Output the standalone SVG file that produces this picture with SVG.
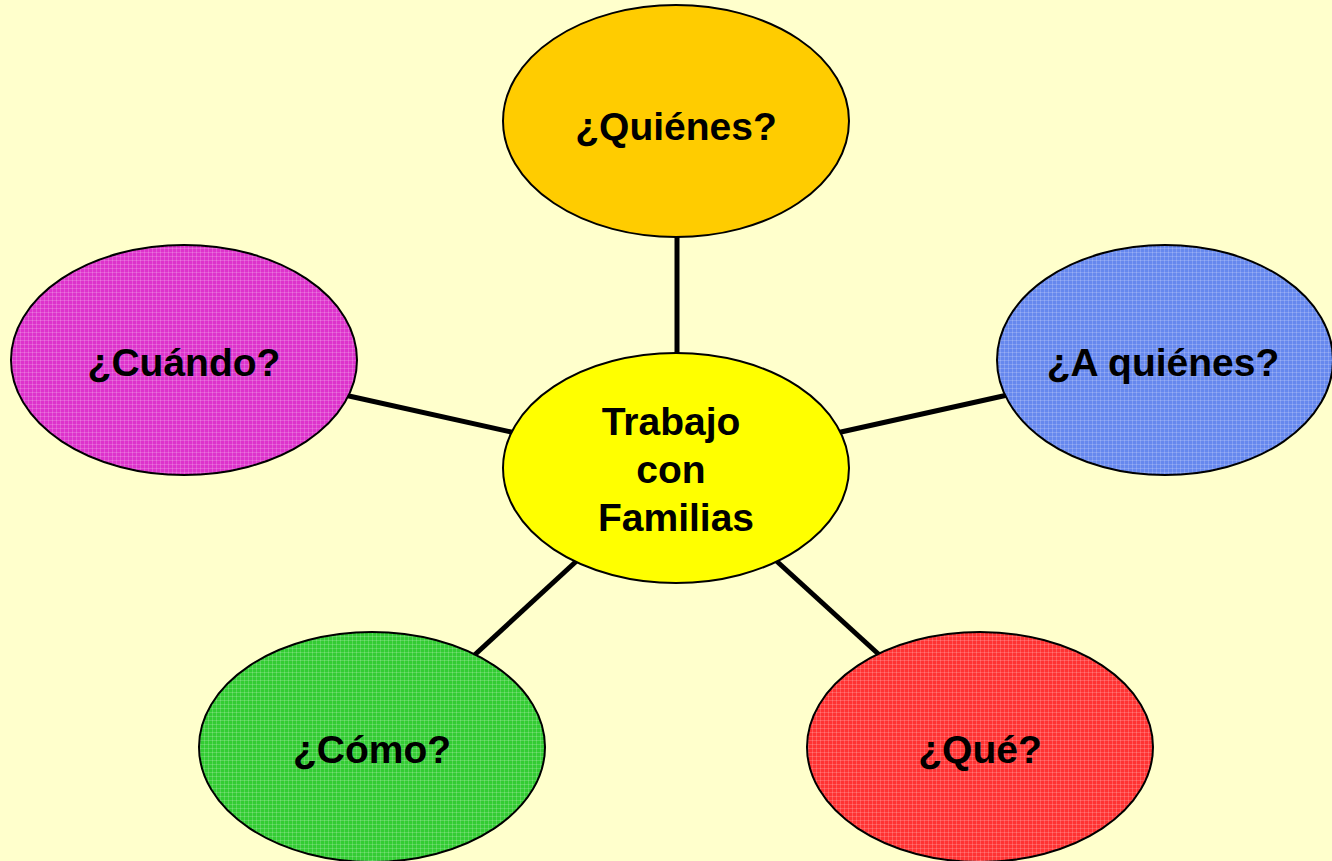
<svg xmlns="http://www.w3.org/2000/svg" width="1332" height="861" viewBox="0 0 1332 861">
  <defs>
    <pattern id="grid" width="4" height="4" patternUnits="userSpaceOnUse">
      <rect x="0" y="0" width="4" height="1" fill="#ffffff" fill-opacity="0.18"/>
      <rect x="0" y="0" width="1" height="4" fill="#ffffff" fill-opacity="0.18"/>
    </pattern>
    <style>
      .node { stroke: #000; stroke-width: 2; }
      .tex { fill: url(#grid); stroke: none; }
      .lbl { font-family: "Liberation Sans", Arial, sans-serif; font-weight: bold; font-size: 39px; fill: #000; text-anchor: middle; }
      .conn { stroke: #000; stroke-width: 5; fill: none; }
    </style>
  </defs>
  <rect x="0" y="0" width="1332" height="861" fill="#FFFFCC"/>
  <g id="connectors">
    <line class="conn" x1="677" y1="230" x2="677" y2="360"/>
    <line class="conn" x1="340" y1="394" x2="520" y2="434"/>
    <line class="conn" x1="832" y1="434" x2="1012" y2="394"/>
    <line class="conn" x1="582" y1="556" x2="468" y2="661"/>
    <line class="conn" x1="771" y1="556" x2="886" y2="661"/>
  </g>
  <g id="n-quienes">
    <ellipse class="node" cx="676" cy="121" rx="173" ry="116" fill="#FFCC00"/>
    <text class="lbl" x="676" y="140">¿Quiénes?</text>
  </g>
  <g id="n-cuando">
    <ellipse class="node" cx="184" cy="360" rx="173" ry="115" fill="#DD33CC"/>
    <ellipse class="tex" cx="184" cy="360" rx="172" ry="114"/>
    <text class="lbl" x="184" y="376">¿Cuándo?</text>
  </g>
  <g id="n-aquienes">
    <ellipse class="node" cx="1165" cy="360" rx="168" ry="115" fill="#6688EE"/>
    <ellipse class="tex" cx="1165" cy="360" rx="167" ry="114"/>
    <text class="lbl" x="1163" y="376">¿A quiénes?</text>
  </g>
  <g id="n-centro">
    <ellipse class="node" cx="676" cy="468" rx="173" ry="115" fill="#FFFF00"/>
    <text class="lbl" x="671" y="435">Trabajo</text>
    <text class="lbl" x="671" y="483">con</text>
    <text class="lbl" x="676" y="531">Familias</text>
  </g>
  <g id="n-como">
    <ellipse class="node" cx="372" cy="747" rx="173" ry="115" fill="#33CC33"/>
    <ellipse class="tex" cx="372" cy="747" rx="172" ry="114"/>
    <text class="lbl" x="372" y="763">¿Cómo?</text>
  </g>
  <g id="n-que">
    <ellipse class="node" cx="980" cy="747" rx="173" ry="115" fill="#FF3333"/>
    <ellipse class="tex" cx="980" cy="747" rx="172" ry="114"/>
    <text class="lbl" x="980" y="763">¿Qué?</text>
  </g>
</svg>
